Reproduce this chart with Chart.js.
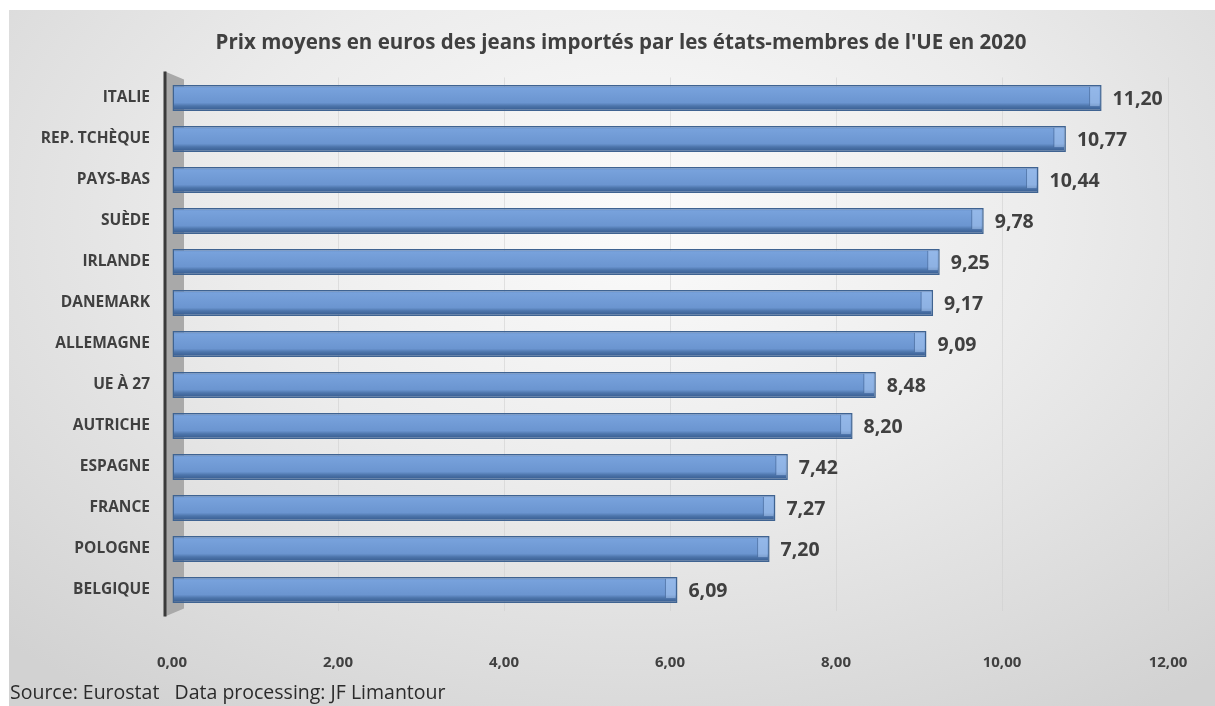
<!DOCTYPE html>
<html lang="fr">
<head>
<meta charset="utf-8">
<title>Prix moyens des jeans importés</title>
<script src="https://cdn.jsdelivr.net/npm/chart.js@4"></script>
<style>
    html, body { margin: 0; padding: 0; background: #ffffff; }
    #wrap {
        position: absolute; left: 9px; top: 10px; width: 1206px; height: 696px;
        background: radial-gradient(ellipse 75% 85% at 52% 30%, #fbfbfb 0%, #ececec 45%, #d2d2d2 100%);
    }
    #chart { position: absolute; left: 0; top: 0; }
    #source {
        position: absolute; left: 10px; top: 680px;
        font-family: "Open Sans", sans-serif; font-size: 19.5px; color: #2b2b2b;
        white-space: pre; line-height: 1.2;
    }
</style>
</head>
<body>
<div id="wrap"></div>
<canvas id="chart" width="1215" height="706"></canvas>
<div id="source">Source: Eurostat   Data processing: JF Limantour</div>
<script>
// Data
const countries = ["ITALIE", "REP. TCHÈQUE", "PAYS-BAS", "SUÈDE", "IRLANDE", "DANEMARK", "ALLEMAGNE",
    "UE À 27", "AUTRICHE", "ESPAGNE", "FRANCE", "POLOGNE", "BELGIQUE"];
const prices = [11.20, 10.77, 10.44, 9.78, 9.25, 9.17, 9.09, 8.48, 8.20, 7.42, 7.27, 7.20, 6.09];
const axisMax = 12;
const axisStep = 2;
const chartTitle = "Prix moyens en euros des jeans importés par les états-membres de l'UE en 2020";

const FONT = '"Open Sans", sans-serif';
const CAT_PCT = 0.64;

function frNum(v) {
    return v.toFixed(2).replace('.', ',');
}

// title: centred a bit right of the canvas middle, like the original
const titlePlugin = {
    id: 'sheetTitle',
    afterDraw(chart) {
        const ctx = chart.ctx;
        ctx.save();
        ctx.fillStyle = '#404040';
        ctx.font = 'bold 20.5px ' + FONT;
        ctx.textAlign = 'center';
        ctx.textBaseline = 'middle';
        ctx.fillText(chartTitle, 621, 43);
        ctx.restore();
    }
};

// gray 3D wall on the left of the bars
const wallPlugin = {
    id: 'wall',
    beforeDatasetsDraw(chart) {
        const ctx = chart.ctx;
        const a = chart.chartArea;
        ctx.save();
        ctx.fillStyle = '#a9a9a9';
        ctx.beginPath();
        ctx.moveTo(a.left - 7, a.top - 6);
        ctx.lineTo(a.left + 12, a.top + 2);
        ctx.lineTo(a.left + 12, a.bottom - 2);
        ctx.lineTo(a.left - 7, a.bottom + 6);
        ctx.closePath();
        ctx.fill();
        ctx.strokeStyle = '#3a3a3a';
        ctx.lineWidth = 3;
        ctx.beginPath();
        ctx.moveTo(a.left - 7, a.top - 6);
        ctx.lineTo(a.left - 7, a.bottom + 6);
        ctx.stroke();
        ctx.restore();
    }
};

// end caps and value labels
const labelPlugin = {
    id: 'valueLabels',
    afterDatasetsDraw(chart) {
        const ctx = chart.ctx;
        const meta = chart.getDatasetMeta(0);
        ctx.save();
        meta.data.forEach((bar, i) => {
            const h = bar.height;
            ctx.fillStyle = 'rgba(175, 205, 245, 0.5)';
            ctx.fillRect(bar.x - 12, bar.y - h / 2 + 2, 10, h - 7);
            ctx.strokeStyle = 'rgba(60, 95, 145, 0.6)';
            ctx.lineWidth = 1;
            ctx.beginPath();
            ctx.moveTo(bar.x - 12, bar.y - h / 2 + 2);
            ctx.lineTo(bar.x - 12, bar.y + h / 2 - 5);
            ctx.stroke();

            ctx.fillStyle = '#404040';
            ctx.font = 'bold 19.5px ' + FONT;
            ctx.textAlign = 'left';
            ctx.textBaseline = 'middle';
            ctx.fillText(frNum(prices[i]), bar.x + 11, bar.y + 1);
        });
        ctx.restore();
    }
};

const ctx = document.getElementById('chart').getContext('2d');
new Chart(ctx, {
    type: 'bar',
    data: {
        labels: countries,
        datasets: [{
            data: prices,
            backgroundColor: function (context) {
                const chart = context.chart;
                const yScale = chart.scales.y;
                if (!chart.chartArea || !yScale || context.dataIndex === undefined) return '#6b95cf';
                const band = (chart.chartArea.bottom - chart.chartArea.top) / countries.length;
                const h = band * CAT_PCT;
                const top = yScale.getPixelForValue(context.dataIndex) - h / 2;
                const g = chart.ctx.createLinearGradient(0, top, 0, top + h);
                g.addColorStop(0, '#5a83bd');
                g.addColorStop(0.12, '#78a2dc');
                g.addColorStop(0.68, '#6b95d0');
                g.addColorStop(0.8, '#4d75ab');
                g.addColorStop(1, '#33578a');
                return g;
            },
            borderColor: '#3f6391',
            borderWidth: 1.5,
            borderSkipped: false,
            categoryPercentage: CAT_PCT,
            barPercentage: 1.0
        }]
    },
    options: {
        indexAxis: 'y',
        responsive: false,
        animation: false,
        layout: { padding: { left: 0, right: 47, top: 77.5, bottom: 0 } },
        plugins: {
            legend: { display: false },
            tooltip: { enabled: false },
            title: { display: false }
        },
        scales: {
            x: {
                min: 0,
                max: axisMax,
                ticks: {
                    stepSize: axisStep,
                    color: '#404040',
                    font: { family: FONT, size: 15, weight: 'bold' },
                    padding: 43,
                    callback: v => frNum(v)
                },
                grid: { color: 'rgba(205, 205, 205, 0.55)', drawTicks: false },
                border: { display: false },
                afterFit(scale) {
                    scale.height = 95.5;
                    scale.paddingLeft = 0;
                    scale.paddingRight = 0;
                }
            },
            y: {
                ticks: {
                    color: '#404040',
                    font: { family: FONT, size: 15.5, weight: 'bold' },
                    padding: 22
                },
                grid: { display: false, drawTicks: false },
                border: { display: false },
                afterFit(scale) { scale.width = 172; }
            }
        }
    },
    plugins: [wallPlugin, labelPlugin, titlePlugin]
});
</script>
</body>
</html>
